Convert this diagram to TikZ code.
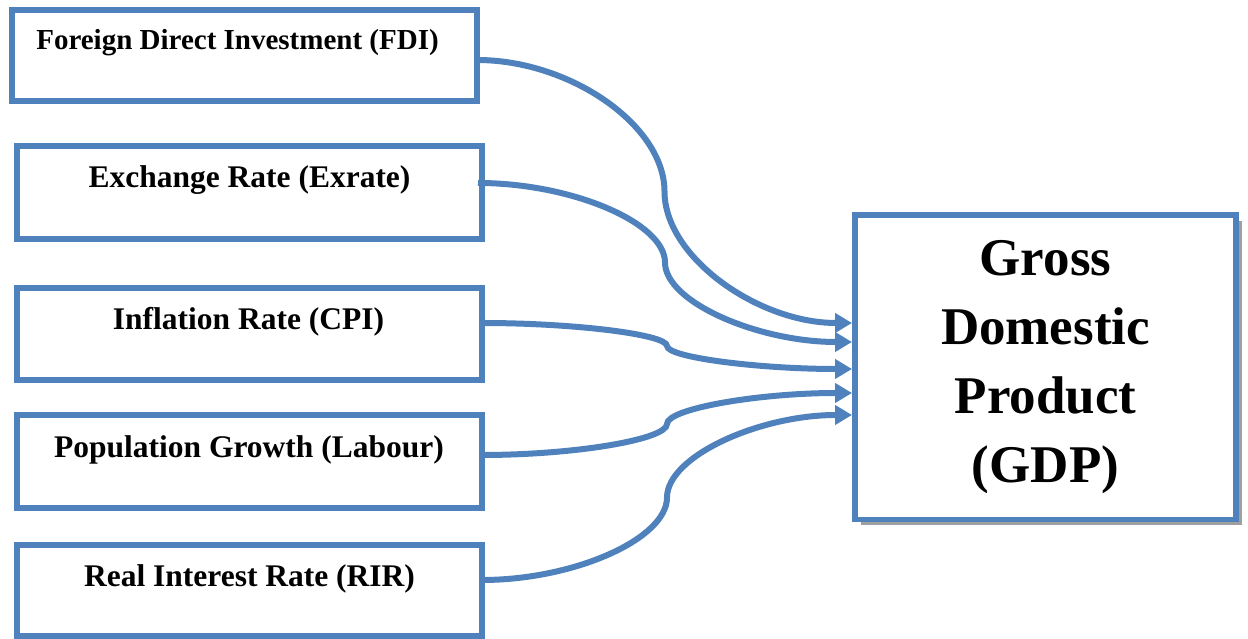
\documentclass[tikz,border=0pt]{standalone}
\usepackage{fontspec}
\setmainfont{Liberation Serif}
\usetikzlibrary{arrows.meta,calc}
\definecolor{accent}{HTML}{4F81BD}
\tikzset{
  inbox/.style={draw=accent, line width=5.5pt, fill=white, inner sep=0pt, outer sep=0pt, rectangle},
  lbl/.style={anchor=base, inner sep=0pt, font=\bfseries\fontsize{31.5}{36}\selectfont},
  conn/.style={draw=accent, line width=6pt, -{Triangle[length=17pt,width=19pt]},
    to path={let \p1=(\tikztostart), \p2=(\tikztotarget) in
      .. controls ({(\x1*3+\x2)/4},\y1) and ({(\x1+\x2)/2},{(\y1*3+\y2)/4}) .. ({(\x1+\x2)/2},{(\y1+\y2)/2})
      .. controls ({(\x1+\x2)/2},{(\y1+\y2*3)/4}) and ({(\x1+\x2*3)/4},\y2) .. (\tikztotarget)}}
}
\begin{document}
\begin{tikzpicture}[x=1pt,y=1pt]
\useasboundingbox (0,0) rectangle (1248,639);
% input boxes
\node[inbox, minimum width=465pt, minimum height=91pt] (b1) at (244.5,583.5) {};
\node[inbox, minimum width=465pt, minimum height=93pt] (b2) at (249.5,446.5) {};
\node[inbox, minimum width=465pt, minimum height=92pt] (b3) at (249.5,305) {};
\node[inbox, minimum width=465pt, minimum height=93pt] (b4) at (249.5,177.5) {};
\node[inbox, minimum width=465pt, minimum height=91pt] (b5) at (249.5,48.5) {};
% labels
\node[lbl, font=\bfseries\fontsize{29}{34}\selectfont] (t1) at (237.5,589) {Foreign Direct Investment (FDI)};
\node[lbl] (t2) at (249.5,451) {Exchange Rate (Exrate)};
\node[lbl] (t3) at (248.5,309) {Inflation Rate (CPI)};
\node[lbl] (t4) at (249,181) {Population Growth (Labour)};
\node[lbl] (t5) at (249.5,52) {Real Interest Rate (RIR)};
% GDP box with shadow
\fill[gray!75] (861,113.5) rectangle (1242,418);
\node[inbox, minimum width=381pt, minimum height=304.5pt, align=center,
  font=\bfseries\fontsize{53}{69}\selectfont] (gdp) at (1045.5,271.75)
  {Gross\\Domestic\\Product\\(GDP)};
% connector end points
\coordinate (s1) at (b1.east |- 0,579);
\coordinate (s2) at ($(b2.east |- 0,456)+(-4,0)$);
\coordinate (s3) at (b3.east |- 0,316);
\coordinate (s4) at (b4.east |- 0,184);
\coordinate (s5) at (b5.east |- 0,59);
\coordinate (e1) at ($(gdp.west |- 0,316)+(-3,0)$);
\coordinate (e2) at ($(gdp.west |- 0,297)+(-3,0)$);
\coordinate (e3) at ($(gdp.west |- 0,270)+(-3,0)$);
\coordinate (e4) at ($(gdp.west |- 0,246)+(-3,0)$);
\coordinate (e5) at ($(gdp.west |- 0,224)+(-3,0)$);
% connectors
\path[conn] (s1) to (e1);
\path[conn] (s2) to (e2);
\path[conn] (s3) to (e3);
\path[conn] (s4) to (e4);
\path[conn] (s5) to (e5);
\end{tikzpicture}
\end{document}
